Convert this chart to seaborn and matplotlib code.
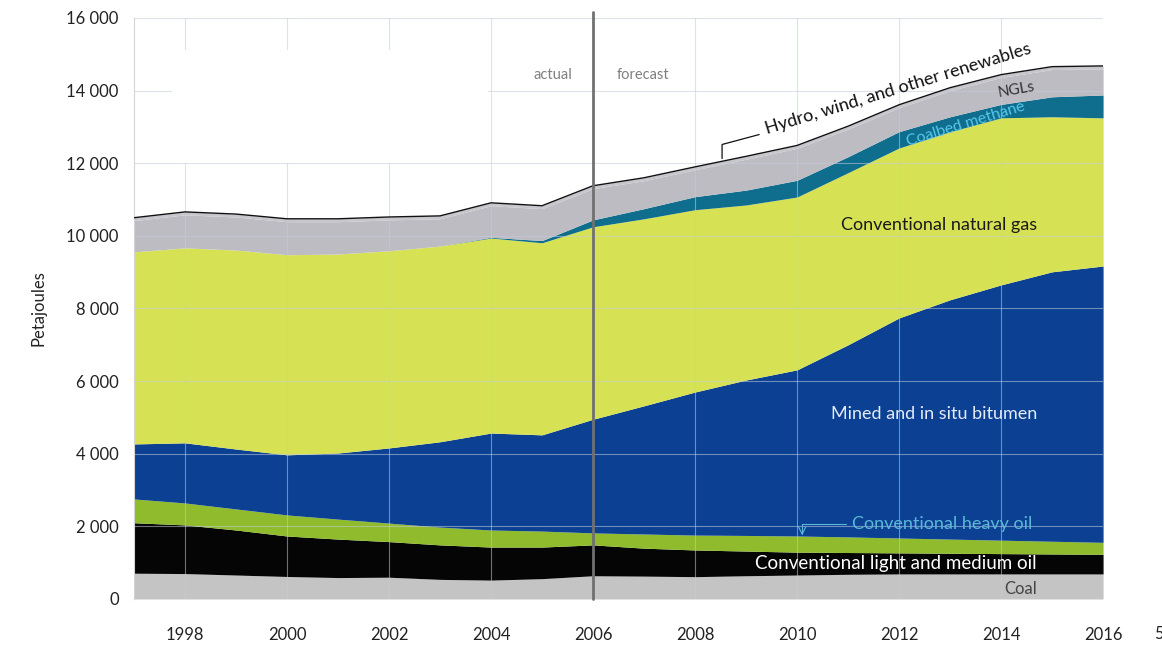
import matplotlib
matplotlib.use('Agg')
import numpy as np
import matplotlib.pyplot as plt
import seaborn as sns
from matplotlib.patches import Rectangle

# Energy production by source, petajoules
years = list(range(1997, 2017))
coal = [710, 700, 660, 620, 590, 600, 540, 520, 560, 640, 630, 615, 640, 660, 680, 690, 690, 690, 690, 690]
light_medium_oil = [1390, 1340, 1240, 1115, 1060, 980, 950, 910, 870, 850, 770, 735, 680, 630, 600, 580, 570, 560, 550, 540]
heavy_oil = [655, 605, 580, 580, 550, 510, 490, 470, 440, 330, 390, 410, 430, 445, 430, 410, 390, 370, 350, 330]
bitumen = [1515, 1655, 1650, 1655, 1820, 2070, 2350, 2670, 2650, 3130, 3530, 3940, 4280, 4575, 5290, 6060, 6590, 7030, 7420, 7610]
natural_gas = [5290, 5370, 5480, 5510, 5480, 5430, 5390, 5370, 5290, 5300, 5150, 5020, 4820, 4760, 4740, 4680, 4630, 4600, 4270, 4080]
coalbed_methane = [0, 0, 0, 0, 0, 0, 0, 20, 60, 190, 280, 360, 410, 460, 440, 450, 410, 370, 550, 630]
ngls = [860, 910, 910, 910, 890, 850, 750, 870, 880, 860, 770, 740, 850, 880, 760, 660, 720, 740, 750, 720]
renewables = [80, 80, 80, 80, 80, 80, 80, 80, 80, 80, 80, 80, 80, 80, 80, 80, 80, 80, 80, 80]

layers = [coal, light_medium_oil, heavy_oil, bitumen, natural_gas, coalbed_methane, ngls, renewables]
colors = ['#c4c4c4', '#050505', '#8fbb2c', '#0b4093', '#d6e253', '#0f6e8e', '#bcbcc2', '#c6c6cc']
y_ticks = [0, 2000, 4000, 6000, 8000, 10000, 12000, 14000, 16000]
x_ticks = [1998, 2000, 2002, 2004, 2006, 2008, 2010, 2012, 2014, 2016]

sns.set_theme(style='white')
plt.rcParams['font.family'] = ['Lato', 'DejaVu Sans']

fig = plt.figure(figsize=(11.62, 6.47), dpi=100)
ax = fig.add_axes([0.1153, 0.0742, 0.834, 0.898])

ax.stackplot(years, *layers, colors=colors, linewidth=0)
cum = np.cumsum(np.array(layers), axis=0)
total = cum[-1]
sns.lineplot(x=years, y=total, color='#111111', linewidth=1.0, ax=ax, zorder=3)

ax.set_xlim(1997, 2016)
ax.set_ylim(0, 16000)
ax.set_xticks(x_ticks)
ax.set_yticks(y_ticks)
ax.set_yticklabels([f'{v:,}'.replace(',', ' ') for v in y_ticks])
ax.tick_params(axis='x', length=0, pad=20, labelsize=12, labelcolor='#222222')
ax.tick_params(axis='y', length=0, pad=11, labelsize=12, labelcolor='#222222')
ax.set_ylabel('Petajoules', fontsize=12, color='#222222', labelpad=14)

ax.set_axisbelow(False)
ax.grid(True, color='#c4ccdc', alpha=0.55, linewidth=0.8)
for side in ['top', 'right', 'bottom']:
    ax.spines[side].set_visible(False)
ax.spines['left'].set_color('#d4d4d4')
ax.spines['left'].set_linewidth(0.8)

# blank legend box
ax.add_patch(Rectangle((1997.75, 12010), 6.2, 3110, facecolor='white', edgecolor='none', zorder=3))

# actual / forecast divider
ax.axvline(2006, ymin=0, ymax=1.01, color='#707070', linewidth=2, zorder=4, clip_on=False)
ax.text(2005.6, 14430, 'actual', ha='right', va='center', fontsize=10.5, color='#808080')
ax.text(2006.47, 14430, 'forecast', ha='left', va='center', fontsize=10.5, color='#808080')

# series labels, right edges lined up
right = 2014.7
ax.text(2009.42, 12800, 'Hydro, wind, and other renewables', rotation=17, rotation_mode='anchor',
        ha='left', va='baseline', fontsize=13, color='#111111', zorder=5)
bx = 2008.53
ax.annotate('', xy=(bx, np.interp(bx, years, total)), xytext=(2009.31, 12810),
            arrowprops=dict(arrowstyle='-', color='#111111', lw=0.9,
                            connectionstyle='angle,angleA=15,angleB=90,rad=0'), zorder=5)
ax.text(2014.3, 14030, 'NGLs', rotation=10, ha='center', va='center', fontsize=11, color='#333333', zorder=5)
ax.text(2013.3, 13080, 'Coalbed methane', rotation=17, ha='center', va='center', fontsize=11.5,
        color='#56c6ea', zorder=5)
ax.text(right, 10300, 'Conventional natural gas', ha='right', va='center', fontsize=13, color='#1a1a1a', zorder=5)
ax.text(right, 5100, 'Mined and in situ bitumen', ha='right', va='center', fontsize=13, color='#e4ebf7', zorder=5)
ax.annotate('Conventional heavy oil', xy=(2010.1, np.interp(2010.1, years, cum[2]) + 20),
            xytext=(2011.08, 2070), ha='left', va='center', fontsize=13, color='#5ab8d6',
            arrowprops=dict(arrowstyle='->', color='#5ab8d6', lw=0.8, shrinkA=2, shrinkB=0,
                            connectionstyle='angle,angleA=0,angleB=90,rad=0'), zorder=5)
ax.text(right, 990, 'Conventional light and medium oil', ha='right', va='center', fontsize=13.5,
        color='white', zorder=5)
ax.text(right, 270, 'Coal', ha='right', va='center', fontsize=12, color='#444444', zorder=5)

fig.text(0.9935, 0.008, '5', fontsize=12, color='#222222', ha='left', va='bottom')

plt.savefig('out.png', dpi=100)
